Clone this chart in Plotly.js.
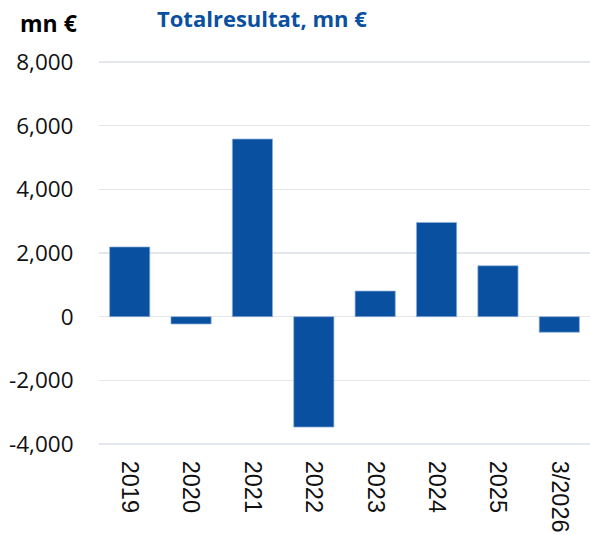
<!DOCTYPE html>
<html>
<head>
<meta charset="utf-8">
<script src="https://cdn.plot.ly/plotly-3.0.1.min.js"></script>
<style>html,body{margin:0;padding:0;background:#fff;}#chart{width:590px;height:535px;}</style>
</head>
<body>
<div id="chart"></div>
<script>
const categories = ["2019", "2020", "2021", "2022", "2023", "2024", "2025", "3/2026"];
const values = [2190, -230, 5580, -3470, 805, 2960, 1600, -490];
const yTickVals = [-4000, -2000, 0, 2000, 4000, 6000, 8000];
const yTickText = ["-4,000", "-2,000", "0", "2,000", "4,000", "6,000", "8,000"];
const titleText = "Totalresultat, mn €";
const unitText = "mn €";

const barColor = "#0A50A1";
const gridColor = "#E3E6EA";

const trace = {
  type: "bar",
  x: categories,
  y: values,
  marker: { color: barColor, line: { color: "#8FB0DC", width: 0.7 } },
  hoverinfo: "x+y"
};

const layout = {
  width: 590,
  height: 535,
  margin: { l: 99, r: 0, t: 59.5, b: 88.7, pad: 0 },
  paper_bgcolor: "#fff",
  plot_bgcolor: "#fff",
  showlegend: false,
  bargap: 0.345,
  xaxis: {
    type: "category",
    tickangle: 90,
    tickfont: { family: "Liberation Sans, Arial, sans-serif", size: 23.5, color: "#111" },
    showgrid: false,
    showline: false,
    zeroline: false,
    ticks: "outside",
    ticklen: 9,
    tickcolor: "rgba(0,0,0,0)"
  },
  yaxis: {
    range: [-4063, 8063],
    tickvals: yTickVals,
    ticktext: yTickText,
    tickfont: { family: "Open Sans, sans-serif", size: 22.5, color: "#111" },
    showgrid: true,
    gridcolor: gridColor,
    gridwidth: 1.3,
    zeroline: true,
    zerolinecolor: gridColor,
    zerolinewidth: 1.3,
    showline: false,
    ticks: "outside",
    ticklen: 20,
    tickcolor: "rgba(0,0,0,0)"
  },
  annotations: [
    {
      text: "<b>" + titleText + "</b>",
      xref: "paper", yref: "paper",
      x: 0.331, y: 1.108,
      xanchor: "center", yanchor: "middle",
      showarrow: false,
      font: { family: "Open Sans, sans-serif", size: 22, color: barColor }
    },
    {
      text: "<b>" + unitText + "</b>",
      xref: "paper", yref: "paper",
      x: -0.165, y: 1.095,
      xanchor: "left", yanchor: "middle",
      showarrow: false,
      font: { family: "Open Sans, sans-serif", size: 23, color: "#000" }
    }
  ]
};

Plotly.newPlot("chart", [trace], layout, { displayModeBar: false, staticPlot: true });
</script>
</body>
</html>
